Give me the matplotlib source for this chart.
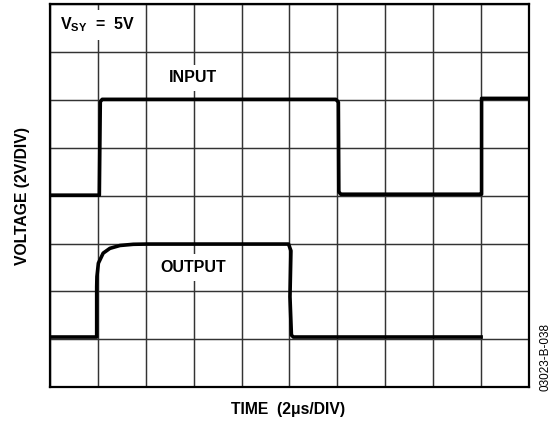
import matplotlib
matplotlib.use("Agg")
import matplotlib.pyplot as plt

plt.rcParams['font.family'] = ['Liberation Sans', 'DejaVu Sans']
plt.rcParams['mathtext.fontset'] = 'custom'
plt.rcParams['mathtext.bf'] = 'Liberation Sans:bold'
plt.rcParams['mathtext.rm'] = 'Liberation Sans:bold'
plt.rcParams['mathtext.default'] = 'bf'

# scope trace in divisions (10 x 8 grid)
input_t = [0.0, 1.03, 1.05, 1.09, 5.97, 6.02, 6.03, 6.07, 9.0, 9.01, 9.01, 10.0]
input_v = [4.01, 4.01, 5.96, 6.01, 6.01, 5.95, 4.08, 4.03, 4.03, 4.03, 6.03, 6.03]

output_t = [0.0, 0.975, 0.975, 0.98, 1.01, 1.11, 1.25, 1.46, 1.74, 2.02,
            4.98, 5.03, 5.01, 5.04, 5.08, 9.0]
output_v = [1.05, 1.05, 2.10, 2.31, 2.59, 2.80, 2.90, 2.96, 2.985, 2.99,
            2.99, 2.85, 1.89, 1.09, 1.05, 1.05]

n_xdiv = 10
n_ydiv = 8

fig = plt.figure(figsize=(5.53, 4.21), dpi=100)
ax = fig.add_axes([0.0904, 0.0800, 0.8662, 0.9105])

ax.set_xlim(0, n_xdiv)
ax.set_ylim(0, n_ydiv)
ax.set_xticks(range(n_xdiv + 1))
ax.set_yticks(range(n_ydiv + 1))
ax.tick_params(length=0, labelbottom=False, labelleft=False)
ax.grid(True, color='#333333', linewidth=1.05)
ax.set_axisbelow(True)
for sp in ax.spines.values():
    sp.set_linewidth(1.6)
    sp.set_color('black')

ax.plot(input_t, input_v, color='black', linewidth=2.6, zorder=3)
ax.plot(output_t, output_v, color='black', linewidth=2.6, zorder=3)

box = dict(facecolor='white', edgecolor='none', pad=4)
ax.text(0.99, 7.56, r'V$_{SY}$  =  5V', fontsize=11.5, fontweight='bold',
        ha='center', va='center', bbox=box, zorder=4)
ax.text(2.98, 6.46, 'INPUT', fontsize=11.5, fontweight='bold',
        ha='center', va='center', bbox=box, zorder=4)
ax.text(2.99, 2.50, 'OUTPUT', fontsize=11.5, fontweight='bold',
        ha='center', va='center', bbox=box, zorder=4)

fig.text(0.521, 0.0285, 'TIME  (2\u03bcs/DIV)', fontsize=11.3, fontweight='bold',
         ha='center', va='center')
fig.text(0.0398, 0.535, 'VOLTAGE (2V/DIV)', fontsize=11.3, fontweight='bold',
         ha='center', va='center', rotation=90)
fig.text(0.987, 0.152, '03023-B-038', fontsize=8.5, rotation=90,
         ha='center', va='center',
         family=['Liberation Sans Narrow', 'Liberation Sans', 'DejaVu Sans'])

fig.savefig('out.png', dpi=100)
